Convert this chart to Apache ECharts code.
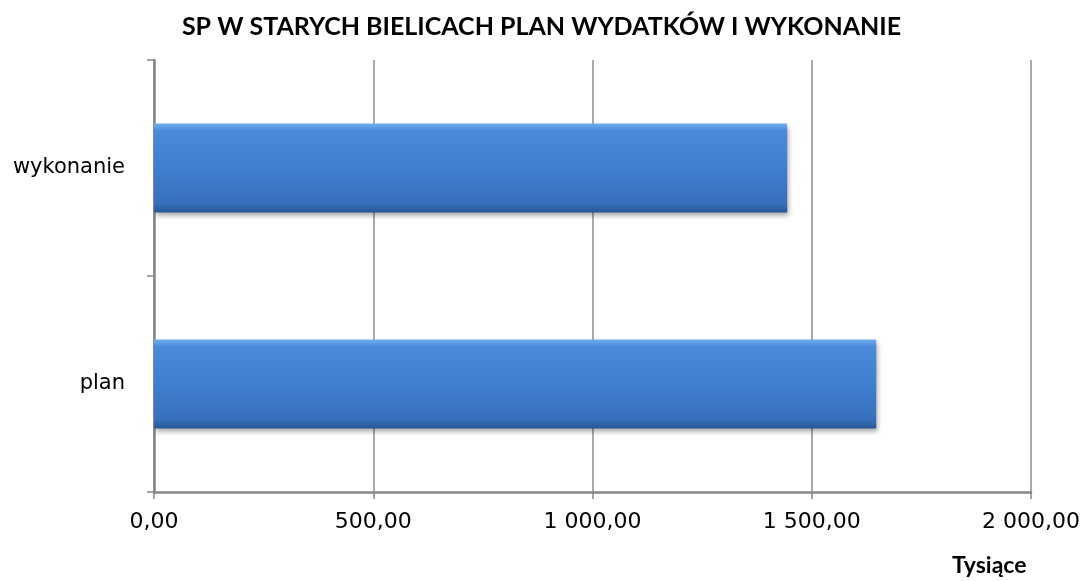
<!DOCTYPE html>
<html>
<head>
<meta charset="utf-8">
<script src="https://cdn.jsdelivr.net/npm/echarts@6/dist/echarts.min.js"></script>
<style>
  html, body { margin: 0; padding: 0; background: #fff; }
  #chart { width: 1083px; height: 581px; }
</style>
</head>
<body>
<div id="chart"></div>
<script>
// dane (tys. zł)
var categories = ["plan", "wykonanie"];
var values = [1647, 1444];
var xMin = 0, xMax = 2000, xStep = 500;

function fmt(v) {
  var s = v.toFixed(2).split(".");
  var intPart = s[0].replace(/\B(?=(\d{3})+(?!\d))/g, " ");
  return intPart + "," + s[1];
}

var myChart = echarts.init(document.getElementById("chart"));
var option = {
  animation: false,
  title: [
    {
      text: "SP W STARYCH BIELICACH PLAN WYDATKÓW I WYKONANIE",
      left: "center",
      top: 9,
      textStyle: { color: "#000", fontSize: 25, fontWeight: "bold", fontFamily: "Lato" }
    },
    {
      text: "Tysiące",
      left: 947,
      top: 549,
      textStyle: { color: "#000", fontSize: 23, fontWeight: "bold", fontFamily: "Lato" }
    }
  ],
  grid: { left: 154, right: 51, top: 60, bottom: 89 },
  xAxis: {
    type: "value",
    min: xMin,
    max: xMax,
    interval: xStep,
    axisLine: { show: true, lineStyle: { color: "#878787", width: 2.5 } },
    axisTick: { show: true, length: 7, lineStyle: { color: "#878787", width: 1.5 } },
    axisLabel: {
      margin: 19,
      color: "#000",
      fontSize: 22,
      fontFamily: "DejaVu Sans",
      formatter: fmt
    },
    splitLine: { show: true, lineStyle: { color: "#8c8c8c", width: 1.5 } }
  },
  yAxis: {
    type: "category",
    data: categories,
    axisLine: { show: true, lineStyle: { color: "#878787", width: 2.5 } },
    axisTick: { show: true, length: 7, lineStyle: { color: "#878787", width: 1.5 } },
    axisLabel: { margin: 29, color: "#000", fontSize: 21, fontFamily: "DejaVu Sans" },
    splitLine: { show: false }
  },
  series: [
    {
      type: "bar",
      data: values,
      barWidth: 89,
      itemStyle: {
        color: new echarts.graphic.LinearGradient(0, 0, 0, 1, [
          { offset: 0, color: "#72aef0" },
          { offset: 0.08, color: "#4a8ad9" },
          { offset: 0.5, color: "#3f7fd0" },
          { offset: 0.9, color: "#376fbb" },
          { offset: 1, color: "#2a5794" }
        ]),
        shadowColor: "rgba(0,0,0,0.35)",
        shadowBlur: 5,
        shadowOffsetX: 2,
        shadowOffsetY: 3
      }
    }
  ]
};
myChart.setOption(option);
</script>
</body>
</html>
